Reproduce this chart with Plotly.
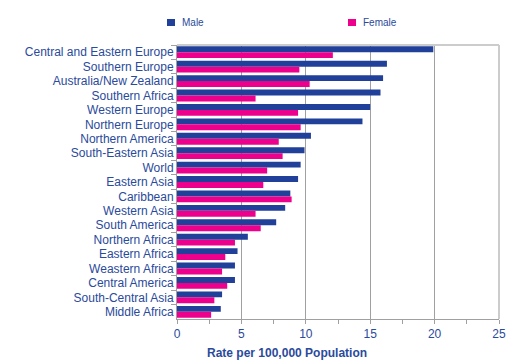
import plotly.graph_objects as go

regions = ["Central and Eastern Europe", "Southern Europe", "Australia/New Zealand",
           "Southern Africa", "Western Europe", "Northern Europe", "Northern America",
           "South-Eastern Asia", "World", "Eastern Asia", "Caribbean", "Western Asia",
           "South America", "Northern Africa", "Eastern Africa", "Weastern Africa",
           "Central America", "South-Central Asia", "Middle Africa"]
male = [19.9, 16.3, 16.0, 15.8, 15.0, 14.4, 10.4, 9.9, 9.6, 9.4, 8.8, 8.4,
        7.7, 5.5, 4.7, 4.5, 4.5, 3.5, 3.4]
female = [12.1, 9.5, 10.3, 6.1, 9.4, 9.6, 7.9, 8.2, 7.0, 6.7, 8.9, 6.1,
          6.5, 4.5, 3.75, 3.5, 3.9, 2.9, 2.65]
x_ticks = [0, 5, 10, 15, 20, 25]
series_names = ["Male", "Female"]

TXT = "#2A4A9C"
BLUE = "#21409A"
PINK = "#EC008C"
colors = [BLUE, PINK]

W, H = 519, 364
L, R, T, B = 177, 20, 45, 45
PW, PH = W - L - R, H - T - B

def px(x):
    return (x - L) / PW

def py(y):
    return (H - B - y) / PH

fig = go.Figure()
for name, vals, col in zip(series_names, [male, female], colors):
    fig.add_trace(go.Bar(y=regions, x=vals, name=name, orientation="h",
                         marker=dict(color=col, line=dict(width=0)), showlegend=False))

legend_pos = [167, 348]
shapes = [
    dict(type="line", xref="paper", yref="paper", x0=0, x1=1, y0=1, y1=1,
         line=dict(color="#CCCCCC", width=2)),
    dict(type="line", xref="paper", yref="paper", x0=1, x1=1, y0=0, y1=1,
         line=dict(color="#CCCCCC", width=2)),
]
annotations = [dict(text="<b>Rate per 100,000 Population</b>", xref="paper", yref="paper",
                    x=px(287), y=0, yshift=-25, xanchor="center", yanchor="top",
                    showarrow=False, font=dict(size=12, color=TXT))]
for name, col, lx in zip(series_names, colors, legend_pos):
    shapes.append(dict(type="rect", xref="paper", yref="paper",
                       x0=px(lx), x1=px(lx + 8), y0=py(26), y1=py(19),
                       fillcolor=col, line=dict(width=0)))
    annotations.append(dict(text=name, xref="paper", yref="paper", x=px(lx + 13), y=py(22.5),
                            xanchor="left", yanchor="middle", showarrow=False,
                            font=dict(size=10, color=TXT)))

fig.update_layout(
    width=W, height=H,
    margin=dict(l=L, r=R, t=T, b=B, autoexpand=False),
    paper_bgcolor="white", plot_bgcolor="white",
    barmode="group", bargap=0.18, bargroupgap=0,
    font=dict(family="Liberation Sans, Arial, sans-serif", size=12, color=TXT),
    showlegend=False,
    xaxis=dict(range=[0, 25], tickvals=x_ticks, ticktext=[str(v) for v in x_ticks],
               showgrid=True, gridcolor="#A0A0A0", gridwidth=1,
               showline=True, linecolor="#A0A0A0", linewidth=1,
               ticks="outside", ticklen=4, tickcolor="#A0A0A0",
               minor=dict(dtick=2.5, ticks="outside", ticklen=4, tickcolor="#A0A0A0", showgrid=False),
               zeroline=False, fixedrange=True, automargin=False,
               tickfont=dict(size=12, color=TXT)),
    yaxis=dict(autorange="reversed", showline=True, linecolor="#A0A0A0", linewidth=1,
               ticks="outside", ticklen=5, tickcolor="#A0A0A0", tickson="boundaries",
               showgrid=False, tickfont=dict(size=12, color=TXT), fixedrange=True,
               automargin=False),
    shapes=shapes,
    annotations=annotations,
)

fig.write_html("out.html", config={"displayModeBar": False},
               post_script="document.body.style.margin='0';document.body.style.padding='0';")
